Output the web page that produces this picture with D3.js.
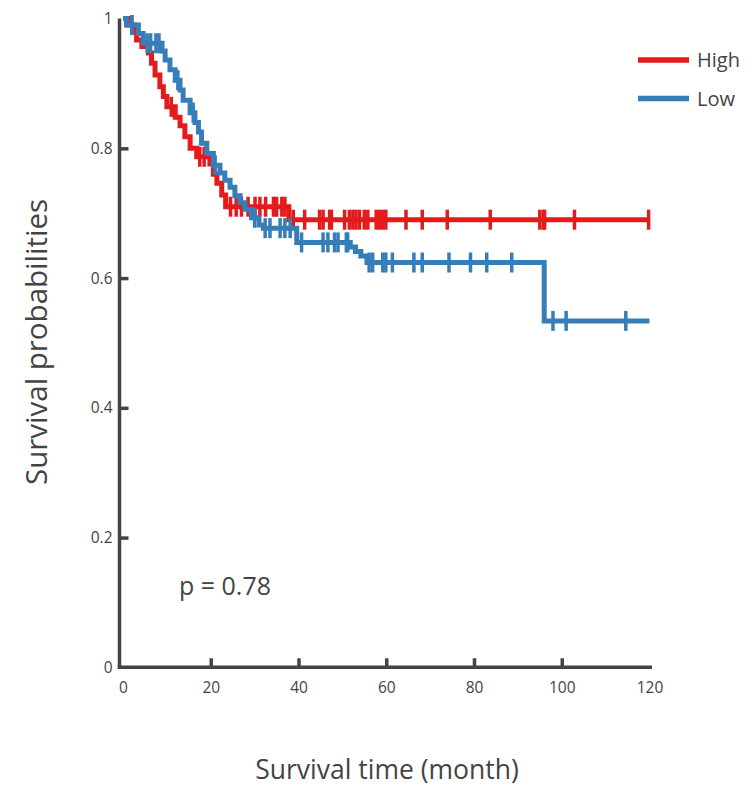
<!DOCTYPE html>
<html>
<head>
<meta charset="utf-8">
<script src="https://cdn.jsdelivr.net/npm/d3@7"></script>
<style>
  html, body { margin: 0; padding: 0; background: #fff; }
  svg { display: block; }
  text { font-family: "Open Sans", sans-serif; fill: #444; }
</style>
</head>
<body>
<svg id="chart" width="756" height="790"></svg>
<script>
// ---- data ----
const groups = ["High", "Low"];

// High group: times where survival changes, survival after the change
const highTime = [0, 1.2, 2.7, 3.1, 4.3, 5.8, 6.5, 7.3, 8.4, 9.2, 10.0, 11.9, 13.0, 14.1, 15.3, 16.8, 19.8, 20.6, 21.4, 22.5, 23.4, 37.8];
const highSurv = [1, 0.990, 0.980, 0.967, 0.957, 0.947, 0.931, 0.913, 0.895, 0.880, 0.864, 0.848, 0.835, 0.818, 0.800, 0.787, 0.776, 0.760, 0.746, 0.728, 0.710, 0.690];
const highCensor = [2.0, 11.0, 17.5, 18.5, 24.5, 25.8, 27.0, 28.5, 30.1, 31.2, 32.5, 34.3, 35.0, 36.2, 36.9,
  38.8, 41.4, 44.8, 45.6, 47.1, 47.5, 50.5, 51.6, 52.4, 53.1, 53.9, 55.0, 55.8, 57.7, 58.4, 59.2, 59.9,
  64.5, 68.2, 73.9, 83.7, 95.0, 95.8, 96.1, 102.9, 119.8];

// Low group
const lowTime = [0, 0.8, 3.5, 4.6, 8.9, 9.6, 10.7, 11.9, 13.0, 13.7, 15.3, 16.4, 17.2, 17.9, 19.1, 20.6, 22.1, 23.2, 24.4, 25.5, 26.7, 27.8, 29.3, 31.0, 32.0, 39.6, 51.8, 53.0, 54.2, 55.6, 96.0];
const lowSurv = [1, 0.990, 0.977, 0.962, 0.950, 0.936, 0.921, 0.905, 0.890, 0.874, 0.855, 0.840, 0.825, 0.808, 0.792, 0.774, 0.762, 0.751, 0.740, 0.727, 0.716, 0.706, 0.693, 0.682, 0.677, 0.655, 0.648, 0.641, 0.634, 0.624, 0.534];
const lowCensor = [2.0, 5.5, 6.3, 7.5, 8.2, 12.5, 16.0, 21.0, 30.0, 32.4, 33.5, 35.8, 36.9, 38.1,
  40.7, 45.6, 46.7, 48.2, 49.0, 50.9, 51.2, 56.1, 56.9, 59.2, 59.9, 61.4, 66.3, 68.2, 74.3, 79.2,
  82.9, 88.6, 98.0, 101.0, 114.6];

const endTime = 120;
const xTicks = [0, 20, 40, 60, 80, 100, 120];
const yTicks = [0, 0.2, 0.4, 0.6, 0.8, 1];
const pText = "p = 0.78";
const xTitle = "Survival time (month)";
const yTitle = "Survival probabilities";
const colors = { High: "#e41a1c", Low: "#377eb8" };

// ---- drawing ----
const svg = d3.select("#chart");
const x = d3.scaleLinear().domain([0, 120]).range([123, 649.5]);
const y = d3.scaleLinear().domain([0, 1]).range([667.3, 18.6]);
const axisColor = "#444";

function stepAt(times, surv, t) {
  let s = surv[0];
  for (let i = 0; i < times.length; i++) { if (times[i] <= t) s = surv[i]; }
  return s;
}

const series = [
  { name: "High", time: highTime, surv: highSurv, censor: highCensor },
  { name: "Low", time: lowTime, surv: lowSurv, censor: lowCensor }
];

const line = d3.line().x(d => x(d[0])).y(d => y(d[1])).curve(d3.curveStepAfter);

// y axis ticks and labels
const yAxis = d3.axisLeft(y).tickValues(yTicks).tickSize(-9).tickPadding(7)
  .tickFormat(d => d === 0 ? "0" : d === 1 ? "1" : d3.format(".1f")(d));
const gy = svg.append("g").attr("transform", "translate(119.5,0)").call(yAxis);
gy.select(".domain").remove();
gy.selectAll(".tick line").attr("stroke", axisColor).attr("stroke-width", 3.5)
  .attr("display", d => (d === 0 || d === 1) ? "none" : null);
gy.selectAll(".tick text").style("font-size", "15.5px").attr("fill", "#555");

// x axis ticks and labels
const xAxis = d3.axisBottom(x).tickValues(xTicks).tickSize(-9).tickPadding(15);
const gx = svg.append("g").attr("transform", "translate(0,667.3)").call(xAxis);
gx.select(".domain").remove();
gx.selectAll(".tick line").attr("stroke", axisColor).attr("stroke-width", 3.5)
  .attr("display", d => (d === 0 || d === 120) ? "none" : null);
gx.selectAll(".tick text").style("font-size", "15.5px").attr("fill", "#555");

// axis lines
svg.append("line").attr("x1", 119.5).attr("x2", 119.5).attr("y1", y(1)).attr("y2", y(0) + 1.75)
  .attr("stroke", axisColor).attr("stroke-width", 3.5);
svg.append("line").attr("x1", 117.75).attr("x2", 652).attr("y1", y(0)).attr("y2", y(0))
  .attr("stroke", axisColor).attr("stroke-width", 3.5);

// curves
series.forEach(s => {
  const pts = s.time.map((t, i) => [t, s.surv[i]]);
  pts.push([endTime, s.surv[s.surv.length - 1]]);
  svg.append("path").datum(pts).attr("d", line)
    .attr("fill", "none").attr("stroke", colors[s.name]).attr("stroke-width", 5);
  svg.append("g").selectAll("line").data(s.censor).join("line")
    .attr("x1", d => x(d)).attr("x2", d => x(d))
    .attr("y1", d => y(stepAt(s.time, s.surv, d)) - 10)
    .attr("y2", d => y(stepAt(s.time, s.surv, d)) + 10)
    .attr("stroke", colors[s.name]).attr("stroke-width", 3.5);
});

// legend
groups.forEach((g, i) => {
  const ly = 60 + i * 38.5;
  svg.append("line").attr("x1", 638).attr("x2", 689).attr("y1", ly).attr("y2", ly)
    .attr("stroke", colors[g]).attr("stroke-width", 5.5);
  svg.append("text").attr("x", 697).attr("y", ly).attr("dy", "0.36em")
    .style("font-size", "20px").text(g);
});

// p value
svg.append("text").attr("x", 179).attr("y", 595).style("font-size", "25px").text(pText);

// titles
svg.append("text").attr("x", 387).attr("y", 779).attr("text-anchor", "middle")
  .style("font-size", "26.5px").text(xTitle);
svg.append("text").attr("transform", "translate(47,342) rotate(-90)").attr("text-anchor", "middle")
  .style("font-size", "29.5px").text(yTitle);
</script>
</body>
</html>
